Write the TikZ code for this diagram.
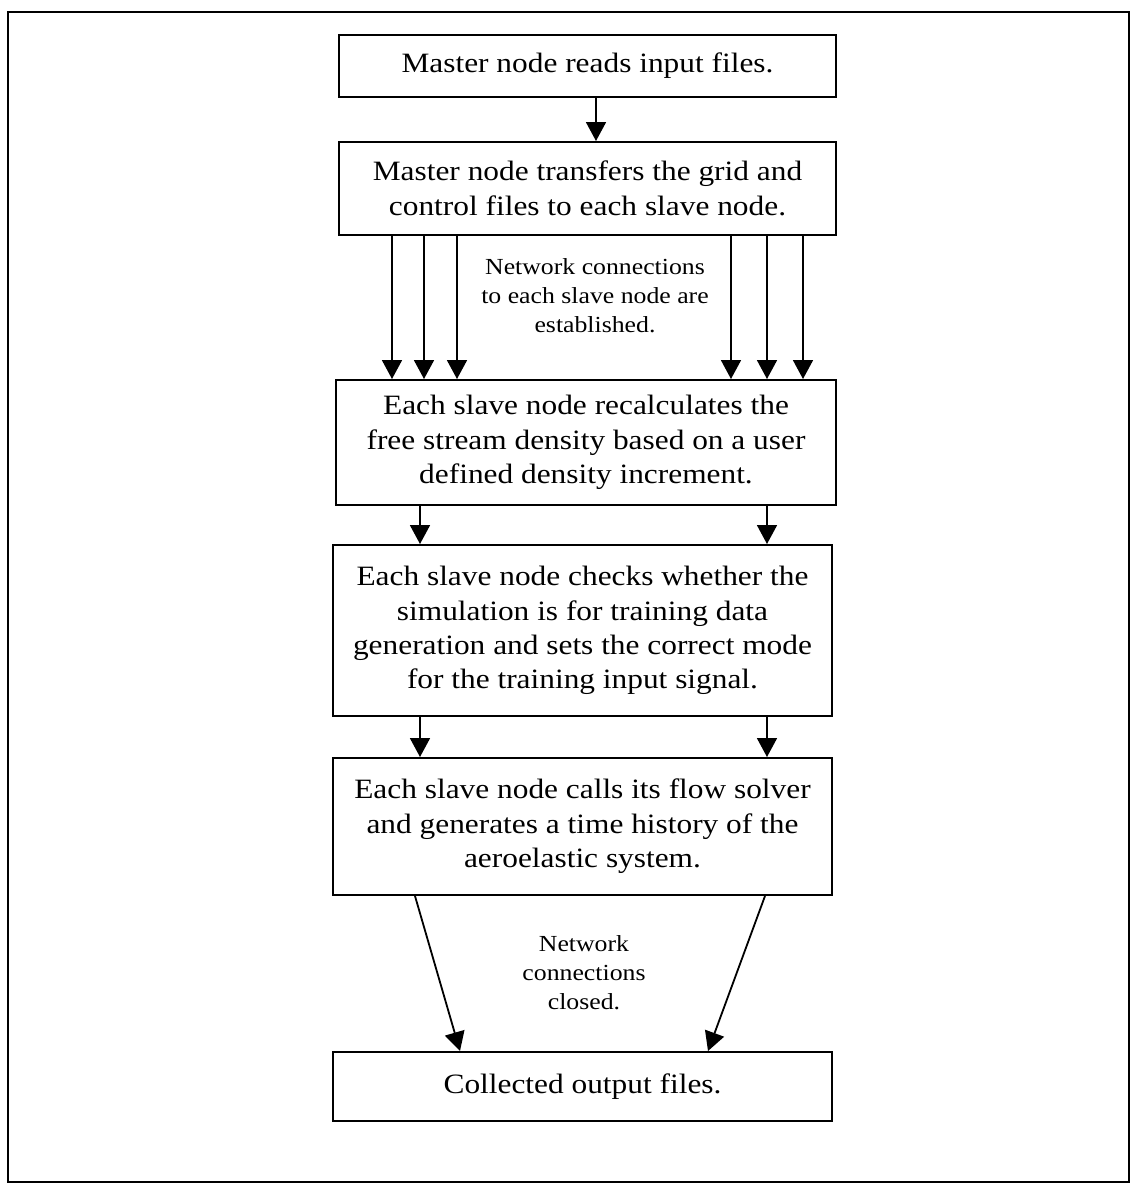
\documentclass[tikz,border=0pt]{standalone}
\usepackage{fontspec}
\setmainfont{Liberation Serif}[FakeStretch=1.12]
\usetikzlibrary{arrows.meta}
\begin{document}
\begin{tikzpicture}[x=0.5pt,y=-0.5pt,
  stepbox/.style={draw,line width=1pt,inner sep=0pt,align=center,
    font=\fontsize{14}{17.2}\selectfont,minimum width=249.5pt},
  note/.style={align=center,inner sep=0pt,font=\fontsize{11.5}{14.5}\selectfont},
  arr/.style={line width=0.9pt,-{Triangle[width=10pt,length=9.5pt]}}]
\useasboundingbox (0,0) rectangle (1131,1185);
% outer frame
\draw[line width=1pt] (8,12) rectangle (1129,1182);

% process steps
\node[stepbox,minimum width=248.5pt,minimum height=31pt] (b1) at (587.5,66)
  {Master node reads input files.};
\node[stepbox,minimum width=248.5pt,minimum height=46.5pt] (b2) at (587.5,188.5)
  {Master node transfers the grid and\\control files to each slave node.};
\node[stepbox,minimum width=250pt,minimum height=62.5pt] (b3) at (586,442.5)
  {Each slave node recalculates the\\free stream density based on a user\\defined density increment.};
\node[stepbox,minimum height=85.5pt] (b4) at (582.5,630.5)
  {Each slave node checks whether the\\simulation is for training data\\generation and sets the correct mode\\for the training input signal.};
\node[stepbox,minimum height=68.5pt] (b5) at (582.5,826.5)
  {Each slave node calls its flow solver\\and generates a time history of the\\aeroelastic system.};
\node[stepbox,minimum height=34.5pt] (b6) at (582.5,1086.5)
  {Collected output files.};

% annotations
\node[note] (n1) at (595,296)
  {Network connections\\to each slave node are\\established.};
\node[note] (n2) at (584,973)
  {Network\\connections\\closed.};

% connectors
\draw[arr] (b1.south -| 596,0) -- (b2.north -| 596,0);
\foreach \xx in {392,424,457,731,767,803}
  \draw[arr] (b2.south -| \xx,0) -- (b3.north -| \xx,0);
\foreach \xx in {420,767}
  \draw[arr] (b3.south -| \xx,0) -- (b4.north -| \xx,0);
\foreach \xx in {420,767}
  \draw[arr] (b4.south -| \xx,0) -- (b5.north -| \xx,0);
\draw[arr] (b5.south -| 415,0) -- (b6.north -| 460,0);
\draw[arr] (b5.south -| 765,0) -- (b6.north -| 708,0);
\end{tikzpicture}
\end{document}
